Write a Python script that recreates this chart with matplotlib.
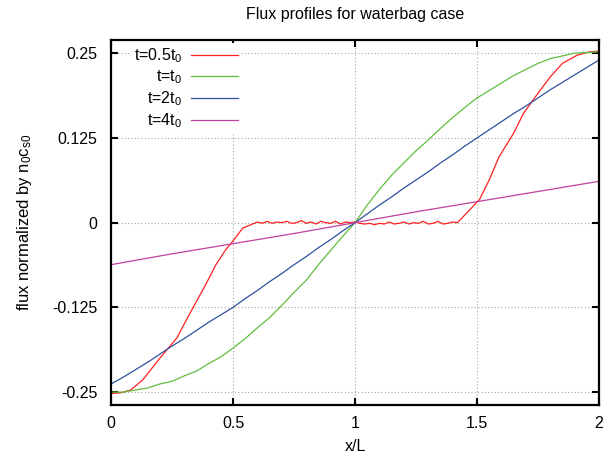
import matplotlib
matplotlib.use('Agg')
import matplotlib.pyplot as plt

plt.rcParams['font.family'] = 'Liberation Sans'
plt.rcParams['mathtext.fontset'] = 'custom'
plt.rcParams['mathtext.rm'] = 'Liberation Sans'
plt.rcParams['mathtext.it'] = 'Liberation Sans'
plt.rcParams['font.size'] = 11.5

# t = 0.5 t0
x_half = [0, 0.04, 0.08, 0.13, 0.2, 0.27, 0.32, 0.39, 0.43, 0.47, 0.5, 0.54,
          0.58, 0.6, 0.62, 0.64, 0.66, 0.68, 0.7, 0.72, 0.74, 0.76, 0.78, 0.8,
          0.82, 0.84, 0.86, 0.88, 0.9, 0.92, 0.94, 0.96, 0.98, 1.0, 1.02, 1.04,
          1.06, 1.08, 1.1, 1.12, 1.14, 1.16, 1.18, 1.2, 1.22, 1.24, 1.26, 1.28,
          1.3, 1.32, 1.34, 1.36, 1.38, 1.4, 1.42, 1.47, 1.51, 1.55, 1.59, 1.65,
          1.69, 1.75, 1.8, 1.85, 1.91, 1.96, 2.0]
y_half = [-0.252, -0.251, -0.247, -0.232, -0.200, -0.170, -0.136, -0.090, -0.062,
          -0.040, -0.027, -0.008, -0.002, 0.001, -0.001, 0.002, -0.001, 0.001,
          0.000, 0.002, -0.001, 0.000, 0.003, -0.001, 0.001, -0.002, 0.002,
          0.000, -0.001, 0.002, -0.002, 0.001, 0.000, 0.001, -0.001, -0.002,
          -0.001, -0.003, -0.001, -0.002, 0.001, -0.002, -0.001, 0.001, -0.002,
          0.000, -0.001, 0.002, -0.002, -0.001, 0.002, -0.002, -0.001, 0.001,
          0.000, 0.019, 0.034, 0.063, 0.097, 0.132, 0.161, 0.191, 0.215, 0.235,
          0.247, 0.252, 0.253]

# t = t0
x_one = [0, 0.05, 0.1, 0.15, 0.2, 0.25, 0.3, 0.35, 0.4, 0.45, 0.5, 0.55, 0.6,
         0.65, 0.7, 0.75, 0.8, 0.85, 0.9, 0.95, 1.0, 1.05, 1.1, 1.15, 1.2,
         1.25, 1.3, 1.35, 1.4, 1.45, 1.5, 1.55, 1.6, 1.65, 1.7, 1.75, 1.8,
         1.85, 1.9, 1.95, 2.0]
y_one = [-0.250, -0.250, -0.247, -0.244, -0.238, -0.234, -0.226, -0.219,
         -0.208, -0.198, -0.185, -0.171, -0.155, -0.140, -0.122, -0.103,
         -0.085, -0.062, -0.041, -0.020, 0.000, 0.026, 0.049, 0.070, 0.088,
         0.106, 0.122, 0.139, 0.155, 0.170, 0.184, 0.195, 0.206, 0.217, 0.226,
         0.235, 0.242, 0.246, 0.250, 0.251, 0.252]

# t = 2 t0
x_two = x_one
y_two = [-0.238, -0.228, -0.217, -0.206, -0.194, -0.182, -0.171, -0.159,
         -0.147, -0.136, -0.125, -0.112, -0.100, -0.087, -0.075, -0.062,
         -0.050, -0.037, -0.025, -0.012, 0.000, 0.013, 0.026, 0.038, 0.051,
         0.063, 0.075, 0.088, 0.100, 0.113, 0.125, 0.137, 0.149, 0.161, 0.172,
         0.184, 0.196, 0.207, 0.218, 0.229, 0.240]

# t = 4 t0
x_four = [0, 0.25, 0.5, 0.75, 1.0, 1.25, 1.5, 1.75, 2.0]
y_four = [-0.062, -0.046, -0.031, -0.016, 0.000, 0.016, 0.031, 0.046, 0.061]

labels = ['t=0.5t$_0$', 't=t$_0$', 't=2t$_0$', 't=4t$_0$']
colors = ['#ff2020', '#5fbf3f', '#3050a0', '#c040a0']

fig = plt.figure(figsize=(6.11, 4.57), dpi=100)
ax = fig.add_axes([0.1817, 0.1138, 0.7987, 0.7987])

series = [(x_half, y_half), (x_one, y_one), (x_two, y_two), (x_four, y_four)]
for (xs, ys), lab, c in zip(series, labels, colors):
    ax.plot(xs, ys, color=c, lw=0.9, label=lab)

ax.set_xlim(0, 2)
ax.set_ylim(-0.269, 0.2695)
ax.set_xticks([0, 0.5, 1, 1.5, 2])
ax.set_xticklabels(['0', '0.5', '1', '1.5', '2'])
ax.set_yticks([-0.25, -0.125, 0, 0.125, 0.25])
ax.set_yticklabels(['-0.25', '-0.125', '0', '0.125', '0.25'])
ax.tick_params(direction='in', length=5, width=1.5, top=True, right=True, pad=8)
ax.tick_params(axis='y', pad=10)
for s in ax.spines.values():
    s.set_linewidth(1.6)
ax.grid(True, ls=(0, (1, 2)), color='#a8a8a8', lw=0.8)

ax.set_title('Flux profiles for waterbag case', fontsize=11.5, pad=15)
ax.set_xlabel('x/L', labelpad=6)
ax.set_ylabel('flux normalized by n$_0$c$_{s0}$', fontsize=12, labelpad=13)

leg = ax.legend(loc='upper right', bbox_to_anchor=(0.266, 0.992),
                markerfirst=False, frameon=True, fancybox=False,
                edgecolor='none', framealpha=1, borderpad=0.2, borderaxespad=0,
                handlelength=2.9, labelspacing=0.22, handletextpad=0.55)

plt.savefig('out.png')
